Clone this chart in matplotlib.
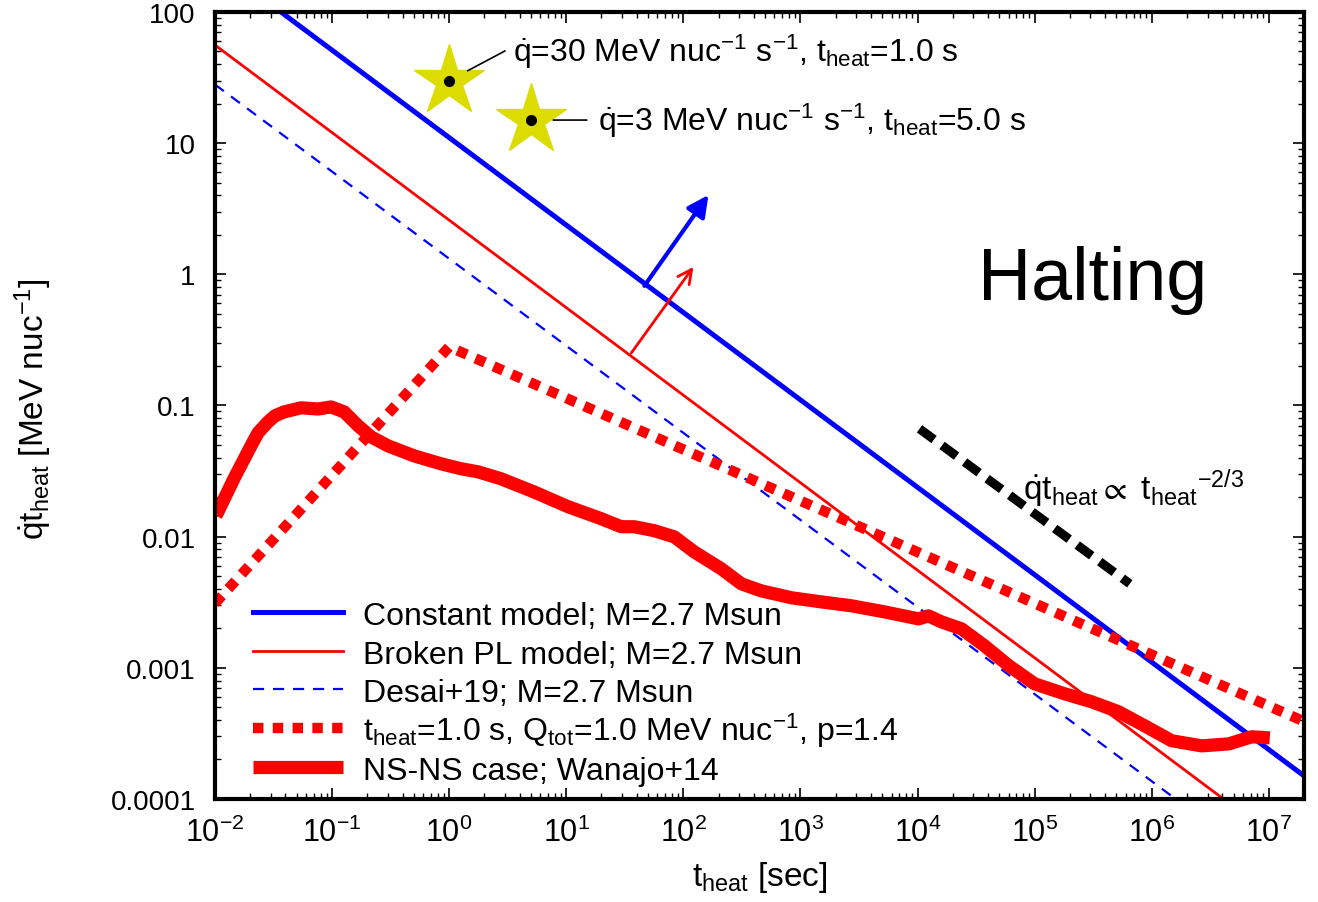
import numpy as np
import matplotlib
matplotlib.use('Agg')
import matplotlib.pyplot as plt
from matplotlib.ticker import LogLocator, NullFormatter, FixedLocator, FixedFormatter

plt.rcParams['font.family'] = ['Liberation Sans', 'DejaVu Sans']
plt.rcParams['mathtext.fontset'] = 'custom'
plt.rcParams['mathtext.rm'] = 'Liberation Sans'
plt.rcParams['mathtext.it'] = 'Liberation Sans'
plt.rcParams['mathtext.default'] = 'regular'

# --- lineas de los modelos ---
t_const = [0.0366, 2.0e7]
y_const = [100.0, 1.5e-4]

t_broken = [0.01, 4.1e6]
y_broken = [56.0, 1.0e-4]

t_desai = [0.01, 1.6e6]
y_desai = [28.0, 1.0e-4]

t_bpl = [0.01, 1.0, 2.0e7]
y_bpl = [3.1e-3, 0.28, 3.9e-4]

# NS-NS; Wanajo+14
t_nsns = [0.0102, 0.0145, 0.0203, 0.0233, 0.0284, 0.0325, 0.0389, 0.0543, 0.0759,
          0.098, 0.127, 0.167, 0.215, 0.301, 0.502, 0.855, 1.27, 1.77, 2.78, 5.32,
          10.4, 19.9, 29.5, 38.1, 56.5, 83.8, 124, 211, 313, 464, 838, 1510, 2730,
          5220, 1.02e4, 1.24e4, 1.6e4, 2.38e4, 3.74e4, 6.0e4, 1.0e5, 1.8e5, 3.07e5,
          5.22e5, 8.71e5, 1.48e6, 2.67e6, 4.55e6, 7.16e6, 1.02e7]
y_nsns = [0.0144, 0.0276, 0.0492, 0.0618, 0.075, 0.0834, 0.0893, 0.096, 0.094,
          0.0975, 0.0893, 0.070, 0.0577, 0.0492, 0.0413, 0.0359, 0.0329, 0.0312,
          0.0276, 0.0219, 0.0169, 0.0137, 0.0119, 0.0119, 0.0111, 0.00996, 0.00765,
          0.00569, 0.00437, 0.00386, 0.00342, 0.00318, 0.00297, 0.00267, 0.00236,
          0.00249, 0.00224, 0.00198, 0.00147, 0.00104, 7.55e-4, 6.34e-4, 5.51e-4,
          4.62e-4, 3.61e-4, 2.78e-4, 2.54e-4, 2.63e-4, 2.98e-4, 2.92e-4]

# pendiente -2/3
t_slope = [1.04e4, 6.5e5]
y_slope = [0.0664, 0.00437]

# estrellas
star_t = [1.0, 5.0]
star_y = [30.0, 15.0]
star_labels = [r'$\dot{q}$=30 MeV nuc$^{-1}$ s$^{-1}$, t$_{heat}$=1.0 s',
               r'$\dot{q}$=3 MeV nuc$^{-1}$ s$^{-1}$, t$_{heat}$=5.0 s']

labels = ['Constant model; M=2.7 Msun',
          'Broken PL model; M=2.7 Msun',
          'Desai+19; M=2.7 Msun',
          r't$_{heat}$=1.0 s, Q$_{tot}$=1.0 MeV nuc$^{-1}$, p=1.4',
          'NS-NS case; Wanajo+14']

yticks = [1e-4, 1e-3, 1e-2, 1e-1, 1, 10, 100]
ytick_labels = ['0.0001', '0.001', '0.01', '0.1', '1', '10', '100']

styles = [dict(color='#0000ff', lw=3.6),
          dict(color='#ff0000', lw=2.0),
          dict(color='#0000ff', lw=1.6, dashes=(5, 4)),
          dict(color='#ff0000', lw=7.5, dashes=(1, 0.9), dash_capstyle='butt'),
          dict(color='#ff0000', lw=9.5, solid_joinstyle='round', solid_capstyle='butt')]

fig = plt.figure(figsize=(13.18, 9.03), dpi=100)
ax = fig.add_axes([0.1631, 0.1141, 0.8263, 0.8715])

series = [(t_const, y_const), (t_broken, y_broken), (t_desai, y_desai),
          (t_bpl, y_bpl), (t_nsns, y_nsns)]
for (tt, yy), st in zip(series, styles):
    ax.plot(tt, yy, **st)
ax.plot(t_slope, y_slope, color='black', lw=6.5, dashes=(2, 1.1), dash_capstyle='butt')

# leyenda a mano (filas con la misma separacion, como en gnuplot)
row_y = 0.2376
for lab, st in zip(labels, styles):
    ax.plot([0.0349, 0.1175], [row_y, row_y], transform=ax.transAxes, **st)
    ax.text(0.1359, row_y - 0.0152, lab, transform=ax.transAxes, fontsize=23,
            ha='left', va='baseline')
    row_y -= 0.0492

# flechas
ax.annotate('', xy=(164, 4.03), xytext=(46.5, 0.817),
            arrowprops=dict(arrowstyle='-|>', color='#0000ff', lw=3,
                            mutation_scale=32, shrinkA=0, shrinkB=0))
ax.annotate('', xy=(122, 1.14), xytext=(36, 0.252),
            arrowprops=dict(arrowstyle='->', color='#ff0000', lw=2,
                            mutation_scale=25, shrinkA=0, shrinkB=0))

# estrellas y etiquetas
ax.plot(star_t, star_y, ls='none', marker='*', ms=53, color='#dcdc00', mec='#dcdc00')
ax.plot(star_t, star_y, ls='none', marker='o', ms=7, color='black')
ax.annotate('', xy=(star_t[0], star_y[0]), xytext=(3.0, 50.5),
            arrowprops=dict(arrowstyle='-', color='black', lw=1.2, shrinkA=0, shrinkB=15))
ax.annotate('', xy=(star_t[1], star_y[1]), xytext=(15.0, 15.0),
            arrowprops=dict(arrowstyle='-', color='black', lw=1.2, shrinkA=0, shrinkB=16))
ax.text(3.52, 42.4, star_labels[0], fontsize=23, ha='left', va='baseline')
ax.text(18.8, 12.6, star_labels[1], fontsize=23, ha='left', va='baseline')

ax.text(3.28e4, 0.65, 'Halting', fontsize=53, ha='left', va='baseline')
ax.text(7.9e4, 0.0194, r'$\dot{q}t_{heat}$$\propto$ t$_{heat}{}^{-2/3}$',
        fontsize=24, ha='left', va='baseline')

ax.set_xscale('log')
ax.set_yscale('log')
ax.set_xlim(0.01, 2.0e7)
ax.set_ylim(1e-4, 100)

ax.xaxis.set_major_locator(LogLocator(base=10, numticks=20))
ax.xaxis.set_minor_locator(LogLocator(base=10, subs=np.arange(2, 10), numticks=200))
ax.xaxis.set_minor_formatter(NullFormatter())
ax.yaxis.set_major_locator(FixedLocator(yticks))
ax.yaxis.set_major_formatter(FixedFormatter(ytick_labels))
ax.yaxis.set_minor_locator(LogLocator(base=10, subs=np.arange(2, 10), numticks=200))
ax.yaxis.set_minor_formatter(NullFormatter())

ax.tick_params(which='both', direction='in', top=True, right=True, labelsize=20)
ax.tick_params(axis='x', which='major', labelsize=22, pad=13)
ax.tick_params(which='major', length=8, width=1.2)
ax.tick_params(which='minor', length=4, width=1.0)
ax.tick_params(axis='y', which='major', pad=14)
for sp in ax.spines.values():
    sp.set_linewidth(3)

ax.set_xlabel(r't$_{heat}$ [sec]', fontsize=24)
ax.xaxis.set_label_coords(0.5, -0.076)
ax.set_ylabel(r'$\dot{q}t_{heat}$ [MeV nuc$^{-1}$]', fontsize=24)
ax.yaxis.set_label_coords(-0.148, 0.496)

plt.savefig('out.png', dpi=100)
